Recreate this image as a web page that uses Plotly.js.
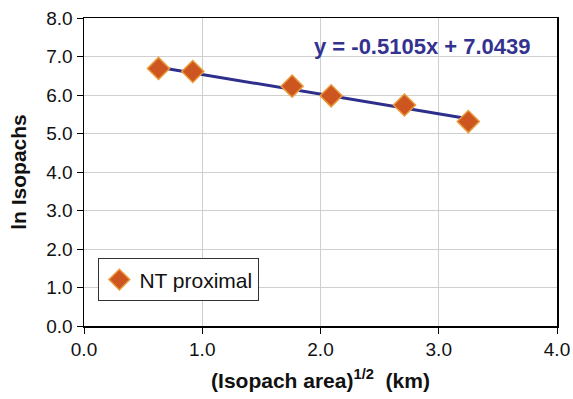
<!DOCTYPE html>
<html>
<head>
<meta charset="utf-8">
<script src="https://cdn.plot.ly/plotly-3.0.1.min.js"></script>
<style>html,body{margin:0;padding:0;background:#fff;}#chart{width:573px;height:399px;}</style>
</head>
<body>
<div id="chart"></div>
<script>
// Data
const xVals = [0.63, 0.92, 1.76, 2.09, 2.71, 3.25];
const yVals = [6.69, 6.61, 6.23, 5.98, 5.74, 5.31];
const seriesName = "NT proximal";
const slope = -0.5105;
const intercept = 7.0439;
const eqText = "y = -0.5105x + 7.0439";
const xTicks = [0, 1, 2, 3, 4];
const xTickLabels = ["0.0", "1.0", "2.0", "3.0", "4.0"];
const yTicks = [0, 1, 2, 3, 4, 5, 6, 7, 8];
const yTickLabels = ["0.0", "1.0", "2.0", "3.0", "4.0", "5.0", "6.0", "7.0", "8.0"];

const xMin = Math.min(...xVals), xMax = Math.max(...xVals);
const trendX = [xMin, xMax];
const trendY = trendX.map(x => slope * x + intercept);

const font = "Liberation Sans, Arial, sans-serif";

const data = [
  {x: trendX, y: trendY, mode: "lines", line: {color: "#2e2e8c", width: 3}, showlegend: false, hoverinfo: "skip"},
  {x: xVals, y: yVals, mode: "markers", name: seriesName,
   marker: {symbol: "diamond", size: 17, color: "#cc5520", line: {color: "#eb9a3c", width: 1.5}}}
];

const layout = {
  width: 573, height: 399,
  margin: {l: 84, r: 16, t: 18, b: 73},
  paper_bgcolor: "#fff", plot_bgcolor: "#fff",
  font: {family: font, size: 19, color: "#111"},
  xaxis: {
    range: [0, 4], tickvals: xTicks, ticktext: xTickLabels,
    showgrid: true, gridcolor: "#cfcfcf", gridwidth: 1,
    showline: true, linecolor: "#000", linewidth: 1.5, mirror: true,
    ticks: "outside", ticklen: 6, tickcolor: "#000",
    zeroline: false,
    tickfont: {size: 19},
    title: {text: "<b>(Isopach area)<sup>1/2</sup>&nbsp;&nbsp;(km)</b>", font: {size: 21}, standoff: 14}
  },
  yaxis: {
    range: [0, 8], tickvals: yTicks, ticktext: yTickLabels,
    showgrid: true, gridcolor: "#cfcfcf", gridwidth: 1,
    showline: true, linecolor: "#000", linewidth: 1.5, mirror: true,
    ticks: "outside", ticklen: 6, tickcolor: "#000",
    zeroline: false,
    tickfont: {size: 19},
    title: {text: "<b>ln Isopachs</b>", font: {size: 21}, standoff: 14}
  },
  legend: {
    x: 0.03, y: 0.22, xanchor: "left", yanchor: "top",
    bgcolor: "#fff", bordercolor: "#333", borderwidth: 1.2,
    font: {size: 21, color: "#111"}
  },
  annotations: [{
    x: 2.86, y: 7.25, xref: "x", yref: "y", showarrow: false,
    text: "<b>" + eqText + "</b>", font: {size: 22, color: "#33338f"}
  }]
};

Plotly.newPlot("chart", data, layout, {displayModeBar: false, staticPlot: true});
</script>
</body>
</html>
